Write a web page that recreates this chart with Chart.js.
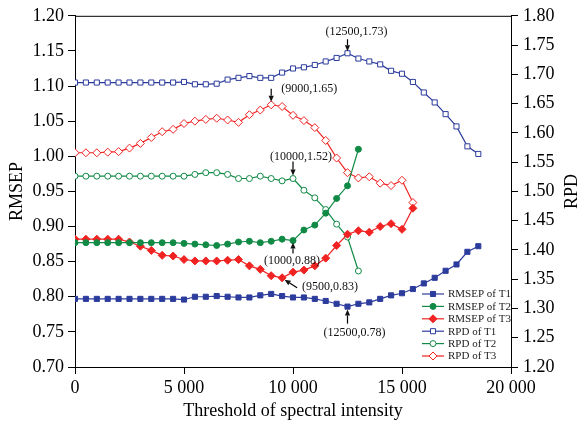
<!DOCTYPE html>
<html>
<head>
<meta charset="utf-8">
<script src="https://cdn.jsdelivr.net/npm/chart.js@4.4.1/dist/chart.umd.min.js"></script>
<style>
  body { margin: 0; background: #fff; }
  #wrap { width: 582px; height: 424px; }
</style>
</head>
<body>
<div id="wrap"><canvas id="myChart" width="582" height="424"></canvas></div>
<script>
// threshold of spectral intensity
var thresholds = [0, 500, 1000, 1500, 2000, 2500, 3000, 3500, 4000, 4500,
    5000, 5500, 6000, 6500, 7000, 7500, 8000, 8500, 9000, 9500,
    10000, 10500, 11000, 11500, 12000, 12500, 13000, 13500, 14000, 14500,
    15000, 15500, 16000, 16500, 17000, 17500, 18000, 18500];

var rmsepT1 = [0.797, 0.797, 0.797, 0.797, 0.797, 0.797, 0.797, 0.797, 0.797, 0.797,
    0.796, 0.800, 0.800, 0.801, 0.800, 0.799, 0.799, 0.802, 0.804, 0.801,
    0.799, 0.799, 0.797, 0.794, 0.790, 0.786, 0.790, 0.792, 0.797, 0.802,
    0.805, 0.811, 0.819, 0.827, 0.837, 0.846, 0.864, 0.872];
var rmsepT2 = [0.877, 0.877, 0.877, 0.877, 0.877, 0.877, 0.877, 0.877, 0.877, 0.877,
    0.876, 0.875, 0.874, 0.873, 0.875, 0.878, 0.879, 0.877, 0.879, 0.882,
    0.880, 0.895, 0.902, 0.919, 0.940, 0.958, 1.010];
var rmsepT3 = [0.882, 0.882, 0.882, 0.882, 0.882, 0.878, 0.872, 0.866, 0.859, 0.858,
    0.853, 0.851, 0.851, 0.851, 0.852, 0.853, 0.844, 0.839, 0.830, 0.827,
    0.835, 0.838, 0.844, 0.855, 0.873, 0.889, 0.894, 0.892, 0.900, 0.904,
    0.896, 0.926];
var rpdT1 = [1.686, 1.686, 1.686, 1.686, 1.686, 1.686, 1.686, 1.686, 1.686, 1.686,
    1.687, 1.683, 1.683, 1.684, 1.691, 1.694, 1.697, 1.694, 1.694, 1.703,
    1.710, 1.712, 1.716, 1.722, 1.728, 1.736, 1.727, 1.722, 1.717, 1.706,
    1.701, 1.687, 1.669, 1.652, 1.632, 1.611, 1.577, 1.564];
var rpdT2 = [1.526, 1.526, 1.526, 1.526, 1.526, 1.526, 1.526, 1.526, 1.526, 1.526,
    1.526, 1.529, 1.532, 1.532, 1.529, 1.522, 1.522, 1.526, 1.522, 1.518,
    1.522, 1.502, 1.489, 1.469, 1.444, 1.422, 1.364];
var rpdT3 = [1.566, 1.566, 1.566, 1.567, 1.568, 1.574, 1.582, 1.592, 1.602, 1.606,
    1.616, 1.620, 1.623, 1.625, 1.622, 1.618, 1.631, 1.639, 1.648, 1.645,
    1.630, 1.621, 1.609, 1.587, 1.557, 1.532, 1.523, 1.525, 1.514, 1.510,
    1.519, 1.481];

var seriesNames = ['RMSEP of T1', 'RMSEP of T2', 'RMSEP of T3', 'RPD of T1', 'RPD of T2', 'RPD of T3'];

var blue = '#2c3c9c';
var green = '#118a46';
var red = '#f02222';
var serif = '"Liberation Serif", "Times New Roman", serif';

function pts(values) {
    return values.map(function (v, i) { return { x: thresholds[i], y: v }; });
}

function fmtThousands(v) {
    var s = String(v);
    if (v >= 1000) s = s.slice(0, -3) + ' ' + s.slice(-3);
    return s;
}

// labels with arrows: offsets in px relative to the marked point
var notes = [
    { ds: 3, idx: 25, text: '(12500,1.73)', tx: 9, ty: -21, a0: [0, -14], a1: [0, -2] },
    { ds: 5, idx: 18, text: '(9000,1.65)', tx: 38, ty: -16, a0: [0, -16], a1: [0, -3] },
    { ds: 4, idx: 20, text: '(10000,1.52)', tx: 8, ty: -22, a0: [0, -17], a1: [0, -3] },
    { ds: 1, idx: 20, text: '(1000,0.88)', tx: -1, ty: 20, a0: [0, 13], a1: [0, 2] },
    { ds: 2, idx: 19, text: '(9500,0.83)', tx: 48, ty: 9, a0: [15, 10], a1: [2.5, 2] },
    { ds: 0, idx: 25, text: '(12500,0.78)', tx: 7, ty: 26, a0: [0, 17], a1: [0, 3] }
];

function arrow(ctx, x0, y0, x1, y1) {
    var ang = Math.atan2(y1 - y0, x1 - x0);
    var hl = 6, hw = 2.6;
    ctx.beginPath();
    ctx.moveTo(x0, y0);
    ctx.lineTo(x1 - Math.cos(ang) * hl, y1 - Math.sin(ang) * hl);
    ctx.stroke();
    ctx.beginPath();
    ctx.moveTo(x1, y1);
    ctx.lineTo(x1 - Math.cos(ang) * hl - Math.sin(ang) * hw, y1 - Math.sin(ang) * hl + Math.cos(ang) * hw);
    ctx.lineTo(x1 - Math.cos(ang) * hl + Math.sin(ang) * hw, y1 - Math.sin(ang) * hl - Math.cos(ang) * hw);
    ctx.closePath();
    ctx.fill();
}

var extras = {
    id: 'extras',
    afterDraw: function (chart) {
        var ctx = chart.ctx;
        var area = chart.chartArea;
        ctx.save();
        // top frame line
        ctx.strokeStyle = '#000';
        ctx.lineWidth = 1;
        ctx.beginPath();
        ctx.moveTo(area.left, area.top + 0.5);
        ctx.lineTo(area.right, area.top + 0.5);
        ctx.stroke();

        // right axis title, reading bottom to top
        ctx.fillStyle = '#000';
        ctx.font = '18px ' + serif;
        ctx.textAlign = 'center';
        ctx.textBaseline = 'middle';
        ctx.translate(572, (area.top + area.bottom) / 2);
        ctx.rotate(-Math.PI / 2);
        ctx.fillText('RPD', 0, 0);
        ctx.setTransform(1, 0, 0, 1, 0, 0);

        // annotations
        ctx.font = '12px ' + serif;
        ctx.lineWidth = 1.2;
        notes.forEach(function (n) {
            var p = chart.getDatasetMeta(n.ds).data[n.idx];
            ctx.fillStyle = '#111';
            ctx.fillText(n.text, p.x + n.tx, p.y + n.ty);
            arrow(ctx, p.x + n.a0[0], p.y + n.a0[1], p.x + n.a1[0], p.y + n.a1[1]);
        });

        // legend
        ctx.font = '11px ' + serif;
        ctx.textAlign = 'left';
        chart.data.datasets.forEach(function (ds, i) {
            var y = 294 + i * 12.4;
            ctx.strokeStyle = ds.borderColor;
            ctx.lineWidth = ds.borderWidth;
            ctx.beginPath();
            ctx.moveTo(422, y);
            ctx.lineTo(444, y);
            ctx.stroke();
            ctx.fillStyle = ds.pointBackgroundColor;
            ctx.strokeStyle = ds.pointBorderColor;
            ctx.lineWidth = ds.pointBorderWidth;
            Chart.helpers.drawPoint(ctx, {
                pointStyle: ds.pointStyle, radius: ds.pointRadius,
                rotation: 0, borderWidth: ds.pointBorderWidth
            }, 433, y);
            ctx.fillStyle = '#222';
            ctx.fillText(seriesNames[i], 448, y + 0.5);
        });
        ctx.restore();
    }
};

function series(i, values, axis, color, style, radius, filled) {
    return {
        label: seriesNames[i],
        data: pts(values),
        yAxisID: axis,
        borderColor: color,
        borderWidth: 1.2,
        pointStyle: style,
        pointRadius: radius,
        pointHoverRadius: radius,
        pointBorderWidth: 1,
        pointBorderColor: color,
        pointBackgroundColor: filled ? color : '#fff',
        fill: false,
        tension: 0
    };
}

var ctx = document.getElementById('myChart').getContext('2d');
var myChart = new Chart(ctx, {
    type: 'line',
    data: {
        datasets: [
            series(0, rmsepT1, 'y', blue, 'rect', 3.6, true),
            series(1, rmsepT2, 'y', green, 'circle', 3, true),
            series(2, rmsepT3, 'y', red, 'rectRot', 4, true),
            series(3, rpdT1, 'y1', blue, 'rect', 3.6, false),
            series(4, rpdT2, 'y1', green, 'circle', 3, false),
            series(5, rpdT3, 'y1', red, 'rectRot', 4, false)
        ]
    },
    options: {
        responsive: false,
        animation: false,
        events: [],
        layout: { padding: { top: 15, left: 0, right: 0, bottom: 0 } },
        plugins: { legend: { display: false }, tooltip: { enabled: false } },
        scales: {
            x: {
                type: 'linear',
                min: 0, max: 20000,
                afterFit: function (s) { s.height = 57; },
                border: { color: '#000', width: 1 },
                grid: { drawOnChartArea: false, tickLength: 7, color: '#000' },
                ticks: {
                    stepSize: 5000, padding: 3, color: '#000',
                    font: { family: serif, size: 18 },
                    maxRotation: 0,
                    callback: function (v) { return fmtThousands(v); }
                },
                title: {
                    display: true, text: 'Threshold of spectral intensity', color: '#000',
                    font: { family: serif, size: 18 }, padding: { top: 0, bottom: 2 }
                }
            },
            y: {
                position: 'left',
                min: 0.70, max: 1.20,
                afterFit: function (s) { s.width = 75; },
                border: { color: '#000', width: 1 },
                grid: { drawOnChartArea: false, tickLength: 7, color: '#000' },
                ticks: {
                    stepSize: 0.05, padding: 4, color: '#000',
                    font: { family: serif, size: 18 },
                    callback: function (v) { return v.toFixed(2); }
                },
                title: {
                    display: true, text: 'RMSEP', color: '#000',
                    font: { family: serif, size: 18 }, padding: { top: 6, bottom: 0 }
                }
            },
            y1: {
                position: 'right',
                min: 1.20, max: 1.80,
                afterFit: function (s) { s.width = 71; },
                border: { color: '#000', width: 1 },
                grid: { drawOnChartArea: false, tickLength: 7, color: '#000' },
                ticks: {
                    stepSize: 0.05, padding: 5, color: '#000',
                    font: { family: serif, size: 18 },
                    callback: function (v) { return v.toFixed(2); }
                }
            }
        }
    },
    plugins: [extras]
});
</script>
</body>
</html>
